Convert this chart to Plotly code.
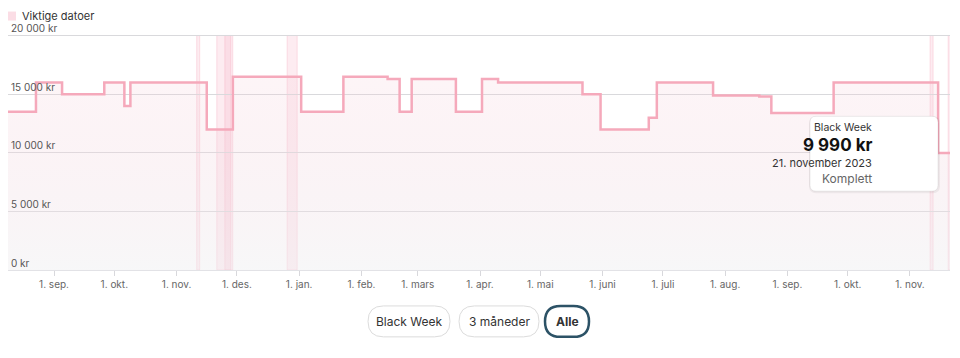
import plotly.graph_objects as go

# ---------------- data ----------------
price_dates = [
    "2022-08-08", "2022-08-23", "2022-09-05", "2022-09-26", "2022-10-06",
    "2022-10-09", "2022-11-16", "2022-11-29", "2023-01-02", "2023-01-23",
    "2023-02-14", "2023-02-20", "2023-02-26", "2023-03-20", "2023-04-02",
    "2023-04-10", "2023-05-22", "2023-05-31", "2023-06-24", "2023-06-28",
    "2023-07-26", "2023-08-18", "2023-08-24", "2023-09-24", "2023-11-15",
    "2023-11-21",
]
price_values = [
    13490, 15990, 14990, 15990, 13990,
    15990, 11990, 16490, 13490, 16490,
    16290, 13490, 16290, 13490, 16290,
    15990, 14990, 11990, 12990, 15990,
    14890, 14790, 13390, 15990, 9990,
    9990,
]

band_starts = ["2022-11-11", "2022-11-21", "2022-11-25", "2022-12-26", "2023-11-11", "2023-11-20"]
band_ends = ["2022-11-12 12:00", "2022-11-28 23:00", "2022-11-27 23:00", "2022-12-31", "2023-11-12 12:00", "2023-11-28"]

tick_dates = ["2022-09-01", "2022-10-01", "2022-11-01", "2022-12-01", "2023-01-01",
              "2023-02-01", "2023-03-01", "2023-04-01", "2023-05-01", "2023-06-01",
              "2023-07-01", "2023-08-01", "2023-09-01", "2023-10-01", "2023-11-01"]
tick_labels = ["1. sep.", "1. okt.", "1. nov.", "1. des.", "1. jan.",
               "1. feb.", "1. mars", "1. apr.", "1. mai", "1. juni",
               "1. juli", "1. aug.", "1. sep.", "1. okt.", "1. nov."]

y_ticks = [0, 5000, 10000, 15000, 20000]
y_tick_labels = ["0 kr", "5 000 kr", "10 000 kr", "15 000 kr", "20 000 kr"]

highlight_date = "2023-11-21"
highlight_value = 9990
tooltip_lines = ["Black Week", "9 990 kr", "21. november 2023", "Komplett"]
button_labels = ["Black Week", "3 måneder", "Alle"]
legend_label = "Viktige datoer"

# ---------------- layout helpers (screen pixel coords; page body has an 8px margin) ----------------
OFF = 8
W, H = 952, 350
SL, SR, ST, SB = 8, 950, 31.5, 270     # plot area in screen pixels
L, R, T, B = SL - OFF, SR - OFF, ST - OFF, SB - OFF
FONT = "Inter, Lato, sans-serif"
PINK = "#f5a9bb"


def px_x(p):
    return (p - SL) / (SR - SL)


def px_y(p):
    return (SB - p) / (SB - ST)


def rounded(x0, y0, x1, y1, r):
    X0, X1 = px_x(x0), px_x(x1)
    Y0, Y1 = px_y(y0), px_y(y1)
    rx, ry = r / (SR - SL), r / (SB - ST)
    return (f"M {X0+rx},{Y0} L {X1-rx},{Y0} Q {X1},{Y0} {X1},{Y0-ry} "
            f"L {X1},{Y1+ry} Q {X1},{Y1} {X1-rx},{Y1} L {X0+rx},{Y1} "
            f"Q {X0},{Y1} {X0},{Y1+ry} L {X0},{Y0-ry} Q {X0},{Y0} {X0+rx},{Y0} Z")


fig = go.Figure()

fig.add_trace(go.Scatter(
    x=price_dates, y=price_values, mode="lines",
    line=dict(color=PINK, width=2.5, shape="hv"),
    fill="tozeroy",
    fillgradient=dict(type="vertical",
                      colorscale=[[0, "rgba(238,238,240,0.45)"], [1, "rgba(245,200,212,0.18)"]]),
    showlegend=False, hoverinfo="skip",
))

fig.add_trace(go.Scatter(
    x=[highlight_date], y=[highlight_value], mode="markers",
    marker=dict(size=16, color="rgba(245,169,187,0.3)"),
    showlegend=False, cliponaxis=False, hoverinfo="skip",
))
fig.add_trace(go.Scatter(
    x=[highlight_date], y=[highlight_value], mode="markers",
    marker=dict(size=8, color=PINK),
    showlegend=False, cliponaxis=False, hoverinfo="skip",
))

shapes = []
for s, e in zip(band_starts, band_ends):
    shapes.append(dict(type="rect", xref="x", yref="paper", x0=s, x1=e, y0=0, y1=px_y(35),
                       fillcolor="rgba(245,170,190,0.22)",
                       line=dict(color="rgba(245,170,190,0.35)", width=1),
                       layer="between"))

# legend swatch
shapes.append(dict(type="rect", xref="paper", yref="paper",
                   x0=px_x(7), x1=px_x(16), y0=px_y(20), y1=px_y(11),
                   fillcolor="#fbdde5", line=dict(width=0)))

# tooltip shadow + box
shapes.append(dict(type="path", xref="paper", yref="paper",
                   path=rounded(809, 116, 940, 193, 7),
                   fillcolor="rgba(0,0,0,0.05)", line=dict(width=0), layer="above"))
shapes.append(dict(type="path", xref="paper", yref="paper",
                   path=rounded(810, 116, 938, 191, 6),
                   fillcolor="white", line=dict(color="rgba(0,0,0,0.07)", width=1), layer="above"))

btns = [(368, 450), (459, 539), (545, 589)]
for i, (a, b) in enumerate(btns):
    if i == 2:
        shapes.append(dict(type="path", xref="paper", yref="paper",
                           path=rounded(a, 306, b, 337, 15.5),
                           fillcolor="white", line=dict(color="#2c5266", width=2.5)))
    else:
        shapes.append(dict(type="path", xref="paper", yref="paper",
                           path=rounded(a, 306, b, 337, 15.5),
                           fillcolor="white", line=dict(color="#dcdcdc", width=1)))

annotations = []
annotations.append(dict(xref="paper", yref="paper", x=px_x(20), y=px_y(15), text=legend_label,
                        xanchor="left", yanchor="middle", showarrow=False,
                        font=dict(family=FONT, size=11, color="#333")))
tt_x = px_x(874)
annotations.append(dict(xref="paper", yref="paper", x=tt_x, y=px_y(127), text=tooltip_lines[0],
                        showarrow=False, yanchor="middle", font=dict(family=FONT, size=10.5, color="#333")))
annotations.append(dict(xref="paper", yref="paper", x=tt_x, y=px_y(145), text=f"<b>{tooltip_lines[1]}</b>",
                        showarrow=False, yanchor="middle", font=dict(family=FONT, size=17, color="#111")))
annotations.append(dict(xref="paper", yref="paper", x=tt_x, y=px_y(162.5), text=tooltip_lines[2],
                        showarrow=False, yanchor="middle", font=dict(family=FONT, size=11, color="#333")))
annotations.append(dict(xref="paper", yref="paper", x=tt_x, y=px_y(178.5), text=tooltip_lines[3],
                        showarrow=False, yanchor="middle", font=dict(family=FONT, size=12, color="#666")))

for i, ((a, b), lab) in enumerate(zip(btns, button_labels)):
    txt = f"<b>{lab}</b>" if i == 2 else lab
    annotations.append(dict(xref="paper", yref="paper", x=px_x((a + b) / 2), y=px_y(322), text=txt,
                            showarrow=False, yanchor="middle",
                            font=dict(family=FONT, size=12, color="#333")))

fig.update_layout(
    width=W, height=H,
    margin=dict(l=L, r=W - R, t=T, b=H - B, autoexpand=False),
    paper_bgcolor="white", plot_bgcolor="white",
    font=dict(family=FONT, size=10, color="#555"),
    showlegend=False,
    xaxis=dict(range=["2022-08-09 02:00", "2023-11-20 22:00"],
               tickvals=tick_dates, ticktext=tick_labels,
               showgrid=False, showline=True, linecolor="#e2e2e6", linewidth=1,
               ticks="outside", ticklen=5, tickcolor="#d8d8dc",
               tickfont=dict(family=FONT, size=10, color="#666"), zeroline=False),
    yaxis=dict(range=[0, 20300], tickvals=y_ticks, ticktext=y_tick_labels,
               ticklabelposition="inside top", ticklabeloverflow="allow",
               showgrid=True, gridcolor="#d9d9dc", gridwidth=1,
               tickfont=dict(family=FONT, size=10, color="#555"), zeroline=False, showline=False),
    shapes=shapes, annotations=annotations,
    hovermode=False,
)

fig.write_html("out.html")
